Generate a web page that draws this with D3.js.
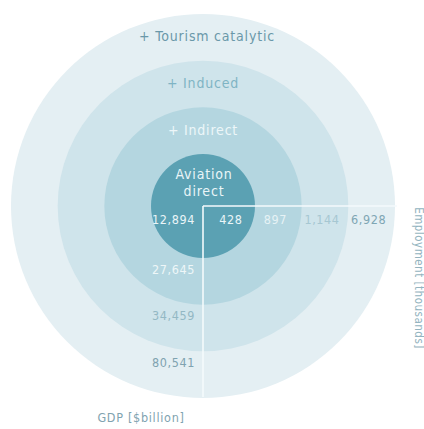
<!DOCTYPE html>
<html>
<head>
<meta charset="utf-8">
<script src="https://cdn.jsdelivr.net/npm/d3@7"></script>
<style>
  html, body { margin: 0; padding: 0; background: #ffffff; }
  svg text { font-family: "DejaVu Sans Condensed", "DejaVu Sans", sans-serif; font-stretch: condensed; }
</style>
</head>
<body>
<svg id="chart" width="424" height="429"></svg>
<script>
// ---- data ----
const rings = ["Aviation direct", "+ Indirect", "+ Induced", "+ Tourism catalytic"];
const rowValues = [428, 897, 1144, 6928];          // along horizontal line (Employment axis)
const columnValues = [12894, 27645, 34459, 80541]; // along vertical line (GDP axis)
const rowAxisLabel = "Employment [thousands]";
const columnAxisLabel = "GDP [$billion]";

// ---- styles ----
const ringFill = ["#5ba1b3", "#b4d6e0", "#cfe4eb", "#e4eff3"];
const ringTitleColor = ["#eaf5f8", "#edf6f9", "#7fb4c4", "#6a98a9"];
const rowColor = ["#eaf5f8", "#e6f2f5", "#a6c7d2", "#7fa6b4"];
const colColor = ["#eaf5f8", "#eef6f8", "#93b8c4", "#7fa3b0"];

const svg = d3.select("#chart");
const cx = 203, cy = 206;
const idx = d3.range(rings.length);
const r = d3.scaleLinear().domain([0, rings.length - 1]).range([52, 192]);
const inner = i => (i === 0 ? 0 : r(i - 1));
const fmt = d3.format(",");

// circles, outermost first
svg.append("g").selectAll("circle")
  .data(idx.slice().reverse())
  .join("circle")
  .attr("cx", cx).attr("cy", cy)
  .attr("r", i => r(i))
  .attr("fill", i => ringFill[i]);

// axis lines
svg.append("line")
  .attr("x1", cx).attr("y1", cy).attr("x2", cx + r(3) + 2).attr("y2", cy)
  .attr("stroke", "#f4fafc").attr("stroke-width", 1.6);
svg.append("line")
  .attr("x1", cx).attr("y1", cy).attr("x2", cx).attr("y2", cy + r(3) - 1)
  .attr("stroke", "#f4fafc").attr("stroke-width", 1.6);

// ring titles
const titles = svg.append("g").attr("font-size", 14).attr("text-anchor", "middle");
idx.forEach(i => {
  if (i === 0) {
    const words = rings[0].split(" ");
    titles.append("text")
      .attr("x", cx + 1).attr("y", cy - 31)
      .attr("dominant-baseline", "middle")
      .attr("fill", ringTitleColor[0])
      .attr("letter-spacing", 0.8)
      .text(words[0]);
    titles.append("text")
      .attr("x", cx + 1).attr("y", cy - 14)
      .attr("dominant-baseline", "middle")
      .attr("fill", ringTitleColor[0])
      .attr("letter-spacing", 0.8)
      .text(words[1]);
  } else {
    titles.append("text")
      .attr("x", cx + (i === 3 ? 4 : 0))
      .attr("y", cy - (inner(i) + r(i)) / 2)
      .attr("dominant-baseline", "middle")
      .attr("fill", ringTitleColor[i])
      .attr("letter-spacing", 0.8)
      .text(rings[i]);
  }
});

// row values (right of vertical line)
svg.append("g").attr("font-size", 12.5).attr("text-anchor", "middle")
  .selectAll("text").data(idx).join("text")
  .attr("x", i => cx + (inner(i) + r(i)) / 2 - (i === 0 ? -2 : 3))
  .attr("y", cy + 14)
  .attr("dominant-baseline", "middle")
  .attr("letter-spacing", 0.6)
  .attr("fill", i => rowColor[i])
  .text(i => fmt(rowValues[i]));

// column values (left of vertical line)
svg.append("g").attr("font-size", 12.5).attr("text-anchor", "end")
  .selectAll("text").data(idx).join("text")
  .attr("x", cx - 8)
  .attr("y", i => cy + inner(i) + (i === 0 ? 14 : 12))
  .attr("dominant-baseline", "middle")
  .attr("letter-spacing", 0.6)
  .attr("fill", i => colColor[i])
  .text(i => fmt(columnValues[i]));

// axis labels
svg.append("text")
  .attr("x", 141).attr("y", 418)
  .attr("text-anchor", "middle").attr("dominant-baseline", "middle")
  .attr("font-size", 12.5).attr("letter-spacing", 0.7)
  .attr("fill", "#7fa3b0")
  .text(columnAxisLabel);

svg.append("text")
  .attr("transform", "translate(418," + 278 + ") rotate(90)")
  .attr("text-anchor", "middle").attr("dominant-baseline", "middle")
  .attr("font-size", 11.5).attr("letter-spacing", 0.5)
  .attr("fill", "#93b4c0")
  .text(rowAxisLabel);
</script>
</body>
</html>
